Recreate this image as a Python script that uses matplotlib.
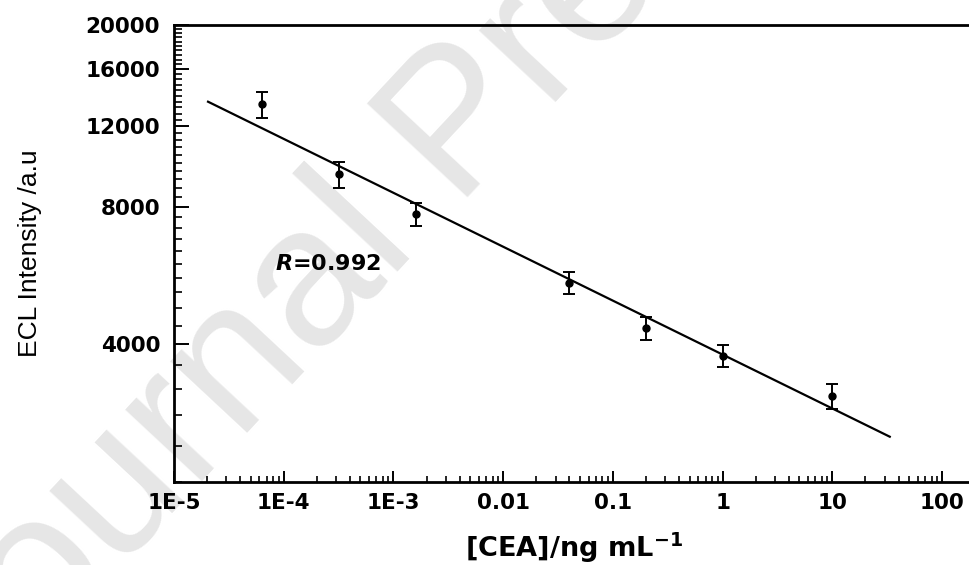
import numpy as np
import matplotlib
matplotlib.use("Agg")
import matplotlib.pyplot as plt
from matplotlib.ticker import FixedLocator, FixedFormatter, NullFormatter, LogLocator

plt.rcParams['font.family'] = ['DejaVu Sans']

# CEA concentration (ng/mL) vs ECL intensity
conc = [6.4e-5, 3.2e-4, 1.6e-3, 0.04, 0.2, 1, 10]
ecl = [13400, 9420, 7700, 5450, 4350, 3780, 3080]
ecl_err = [870, 620, 450, 300, 250, 210, 190]

# linear fit of log(I) vs log(c)
fit_a = 3800
fit_b = -0.118
fit_range = [2e-5, 34]
r_value = 0.992

x_ticks = [1e-5, 1e-4, 1e-3, 0.01, 0.1, 1, 10, 100]
x_ticklabels = ["1E-5", "1E-4", "1E-3", "0.01", "0.1", "1", "10", "100"]
y_ticks = [4000, 8000, 12000, 16000, 20000]

fig = plt.figure(figsize=(9.69, 5.65), dpi=100)

# watermark behind the axes
fig.text(-0.026, -0.283, "Journal Pre-proof", fontsize=143, color='#e6e6e6',
         family='Liberation Sans', rotation=47, rotation_mode='anchor',
         ha='left', va='baseline', zorder=-5)

ax = fig.add_axes([174 / 969, 83 / 565, (974 - 174) / 969, (482 - 25) / 565])
ax.patch.set_alpha(0)
ax.set_xscale('log')
ax.set_yscale('log')
ax.set_xlim(1e-5, 195)
ax.set_ylim(2000, 20000)

xf = np.array(fit_range)
ax.plot(xf, fit_a * xf ** fit_b, color='black', lw=1.6, solid_capstyle='butt')
ax.errorbar(conc, ecl, yerr=ecl_err, fmt='o', color='black', ms=5,
            elinewidth=1.4, capsize=4, capthick=1.4)

ax.text(8.3e-5, 6000, "$\\boldsymbol{R}$=%.3f" % r_value, fontsize=16,
        fontweight='bold', ha='left', va='center')

# axes ticks
ax.xaxis.set_major_locator(FixedLocator(x_ticks))
ax.xaxis.set_major_formatter(FixedFormatter(x_ticklabels))
ax.xaxis.set_minor_locator(LogLocator(base=10, subs=np.arange(2, 10), numticks=20))
ax.xaxis.set_minor_formatter(NullFormatter())

ax.yaxis.set_major_locator(FixedLocator(y_ticks))
ax.yaxis.set_major_formatter(FixedFormatter([str(v) for v in y_ticks]))
ax.yaxis.set_minor_locator(FixedLocator(np.arange(2000, 20001, 400)))
ax.yaxis.set_minor_formatter(NullFormatter())

ax.tick_params(axis='x', which='major', direction='in', length=8, width=1.4,
               labelsize=15.5, pad=8, top=False)
ax.tick_params(axis='x', which='minor', direction='in', length=4, width=1.2, top=False)
ax.tick_params(axis='y', which='major', direction='in', length=11, width=1.4,
               labelsize=15.5, pad=10, right=False)
ax.tick_params(axis='y', which='minor', direction='in', length=6, width=1.2, right=False)
for lbl in ax.get_xticklabels() + ax.get_yticklabels():
    lbl.set_fontweight('bold')

for s in ['left', 'bottom', 'top']:
    ax.spines[s].set_linewidth(2)
ax.spines['right'].set_visible(False)

ax.set_xlabel("[CEA]/ng mL$^{\\mathbf{-1}}$", fontsize=19.5, fontweight='bold', va='top')
ax.xaxis.set_label_coords(0.5, -0.107)
ax.set_ylabel("ECL Intensity /a.u", fontsize=19, family='Liberation Sans')
ax.yaxis.set_label_coords(-0.165, 0.5)

fig.savefig("out.png", dpi=100)
